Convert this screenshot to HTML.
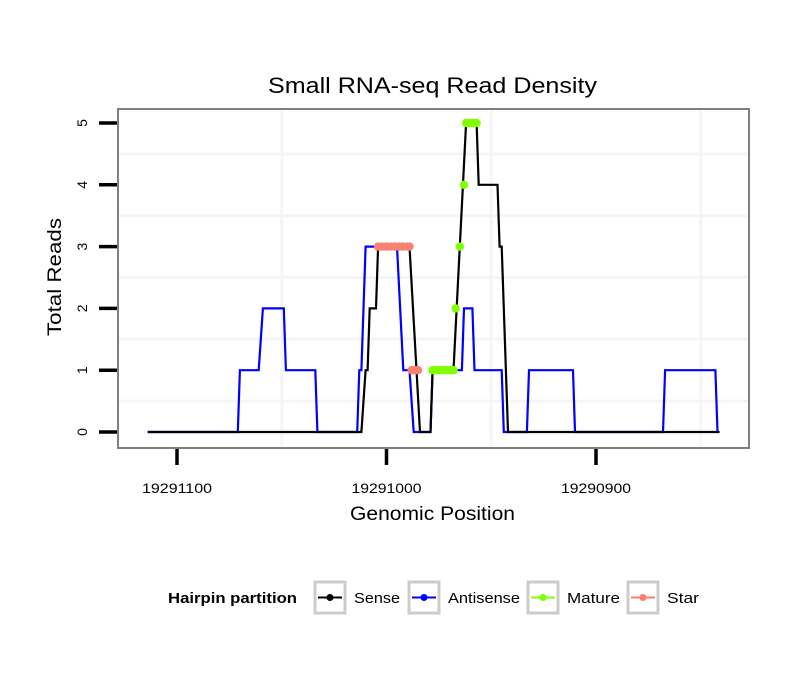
<!DOCTYPE html>
<html><head><meta charset="utf-8"><style>
body{margin:0;background:#fff;}
svg{display:block;font-family:"Liberation Sans",sans-serif;}
</style></head><body>
<svg id="chart" width="810" height="690">
<rect width="810" height="690" fill="#fff"/>
<text x="268" y="93" font-size="22" textLength="329" lengthAdjust="spacingAndGlyphs">Small RNA-seq Read Density</text>
<rect x="118" y="109" width="631" height="339" fill="#fff"/>
<g id="grid"></g>
<g id="series"></g>
<rect x="118" y="109" width="631" height="339" fill="none" stroke="#808080" stroke-width="2"/>
<g id="axes"></g>
<text x="350" y="520" font-size="19" textLength="165" lengthAdjust="spacingAndGlyphs">Genomic Position</text>
<text transform="translate(61,336) rotate(-90)" font-size="19" textLength="118" lengthAdjust="spacingAndGlyphs">Total Reads</text>
<g>
<text x="168" y="603" font-size="15" font-weight="bold" textLength="129" lengthAdjust="spacingAndGlyphs">Hairpin partition</text>
<g>
<rect x="315" y="582" width="30" height="31" fill="#fff" stroke="#cccccc" stroke-width="3"/>
<line x1="318" y1="597.5" x2="342" y2="597.5" stroke="#000" stroke-width="2"/><circle cx="330" cy="597.5" r="3.5" fill="#000"/>
<text x="354" y="603" font-size="15" textLength="46" lengthAdjust="spacingAndGlyphs">Sense</text></g>
<g>
<rect x="409" y="582" width="30" height="31" fill="#fff" stroke="#cccccc" stroke-width="3"/>
<line x1="412" y1="597.5" x2="436" y2="597.5" stroke="#0000ff" stroke-width="2"/><circle cx="424" cy="597.5" r="3.5" fill="#0000ff"/>
<text x="448" y="603" font-size="15" textLength="72" lengthAdjust="spacingAndGlyphs">Antisense</text></g>
<g>
<rect x="528" y="582" width="30" height="31" fill="#fff" stroke="#cccccc" stroke-width="3"/>
<line x1="531" y1="597.5" x2="555" y2="597.5" stroke="#7fff00" stroke-width="2"/><circle cx="543" cy="597.5" r="3.5" fill="#7fff00"/>
<text x="567" y="603" font-size="15" textLength="53" lengthAdjust="spacingAndGlyphs">Mature</text></g>
<g>
<rect x="628" y="582" width="30" height="31" fill="#fff" stroke="#cccccc" stroke-width="3"/>
<line x1="631" y1="597.5" x2="655" y2="597.5" stroke="#fa8072" stroke-width="2"/><circle cx="643" cy="597.5" r="3.5" fill="#fa8072"/>
<text x="667" y="603" font-size="15" textLength="32" lengthAdjust="spacingAndGlyphs">Star</text></g>
</g>
</svg>
<script>
const NS="http://www.w3.org/2000/svg";
const xTicks=[19291100,19291000,19290900];
const xTickLabels=["19291100","19291000","19290900"];
const yTicks=[0,1,2,3,4,5];
const yTickLabels=["0","1","2","3","4","5"];
const sensePos=[19291114,19291012,19291010,19291009,19291008,19291005,19291004,19290989,19290984,19290979,19290978,19290968,19290962,19290957,19290956,19290947,19290946,19290945,19290942,19290841];
const senseVal=[0,0,1,1,2,2,3,3,0,0,1,1,5,5,4,4,3,3,0,0];
const antiPos=[19291114,19291071,19291070,19291061,19291059,19291049,19291048,19291034,19291033,19291014,19291013,19291012,19291010,19290995,19290992,19290989,19290987,19290979,19290978,19290964,19290963,19290959,19290958,19290945,19290944,19290933,19290932,19290911,19290910,19290868,19290867,19290843,19290842];
const antiVal=[0,0,1,1,2,2,1,1,0,0,1,1,3,3,1,1,0,0,1,1,2,2,1,1,0,0,1,1,0,0,1,1,0];
const maturePos=[19290978,19290977,19290976,19290975,19290974,19290973,19290972,19290971,19290970,19290969,19290968,19290967,19290965,19290963,19290962,19290961,19290960,19290959,19290958,19290957];
const matureVal=[1,1,1,1,1,1,1,1,1,1,1,2,3,4,5,5,5,5,5,5];
const starPos=[19291004,19291002,19291000,19290998,19290996,19290994,19290992,19290990,19290989,19290988,19290987,19290986,19290985];
const starVal=[3,3,3,3,3,3,3,3,3,1,1,1,1];

const X=p=>177+(19291100-p)*2.095;
const Y=v=>432-v*61.8;
function mk(tag,attrs,parent){const e=document.createElementNS(NS,tag);for(const k in attrs)e.setAttribute(k,attrs[k]);parent.appendChild(e);return e;}
const grid=document.getElementById('grid'),series=document.getElementById('series'),axes=document.getElementById('axes');
for(let v=0.5;v<=5;v+=1){const g=mk('line',{x1:119,x2:748,y1:Y(v),y2:Y(v),stroke:'#f5f5f5','stroke-width':3},grid);

}
for(let p=19291150;p>=19290800;p-=100){const x=X(p);if(x<119||x>748)continue;const g=mk('line',{x1:x,x2:x,y1:110,y2:447,stroke:'#f5f5f5','stroke-width':3},grid);

}
xTicks.forEach((t,i)=>{const l=mk('line',{x1:X(t),x2:X(t),y1:449,y2:465,stroke:'#000','stroke-width':3.5},axes);


const tx=mk('text',{x:X(t)-35,y:493,'font-size':14,textLength:70,lengthAdjust:'spacingAndGlyphs'},axes);tx.textContent=xTickLabels[i];

});
yTicks.forEach((t,i)=>{const l=mk('line',{x1:99,x2:117,y1:Y(t),y2:Y(t),stroke:'#000','stroke-width':3.5},axes);


const tx=mk('text',{transform:`translate(87,${Y(t)}) rotate(-90)`,'text-anchor':'middle','font-size':14},axes);tx.textContent=yTickLabels[i];

});
function line(pos,val,color,name){const d=pos.map((p,i)=>(i?'L':'M')+X(p).toFixed(1)+','+Y(val[i]).toFixed(1)).join('');
const e=mk('path',{d:d,fill:'none',stroke:color,'stroke-width':2.2,'stroke-linejoin':'miter'},series);

}
line(antiPos,antiVal,'#0000ff','antisense-line');
line(sensePos,senseVal,'#000000','sense-line');
function pts(pos,val,color,name){pos.forEach((p,i)=>{const c=mk('circle',{cx:X(p),cy:Y(val[i]),r:4.2,fill:color},series);

});}
pts(maturePos,matureVal,'#7fff00','mature-point');
pts(starPos,starVal,'#fa8072','star-point');
</script>
</body></html>
